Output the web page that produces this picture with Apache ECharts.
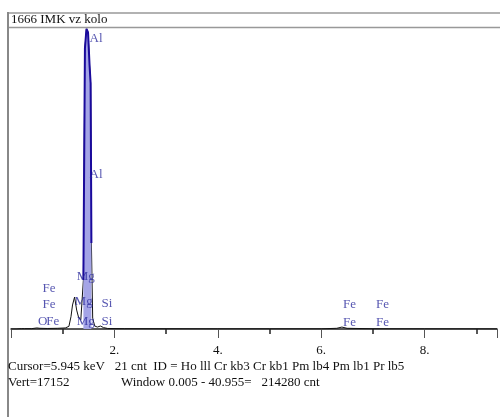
<!DOCTYPE html>
<html>
<head>
<meta charset="utf-8">
<script src="https://cdn.jsdelivr.net/npm/echarts@6/dist/echarts.min.js"></script>
<style>html,body{margin:0;padding:0;background:#fff}#c{width:500px;height:417px}</style>
</head>
<body>
<div id="c"></div>
<script>
// Spectrum (keV, counts)
var energy = [0, 0.1, 0.2, 0.23, 0.26, 0.4, 0.5, 0.53, 0.56, 0.7, 0.9, 1.05, 1.12, 1.16, 1.19, 1.23, 1.27, 1.31, 1.35, 1.40, 1.43, 1.46, 1.49, 1.52, 1.54, 1.555, 1.58, 1.62, 1.67, 1.73, 1.79, 1.87, 2.2, 3, 4, 5, 6, 6.3, 6.4, 6.5, 7, 8, 9.4];
var counts = [0, 0, 20, 70, 20, 20, 60, 110, 40, 30, 40, 60, 150, 700, 1370, 1820, 1080, 630, 520, 2790, 16000, 17100, 16900, 15000, 14000, 4900, 600, 170, 110, 170, 80, 30, 20, 15, 10, 10, 10, 40, 110, 40, 15, 10, 5];
// Al region of interest (highlighted)
var alEnergy = [1.40, 1.43, 1.46, 1.49, 1.52, 1.54, 1.555];
var alCounts = [2790, 16000, 17100, 16900, 15000, 14000, 4900];
// Peak identification labels
var peakLabels = ['Al', 'Al', 'Mg', 'Mg', 'Si', 'Mg', 'Si', 'Fe', 'Fe', 'O', 'Fe', 'Fe', 'Fe', 'Fe', 'Fe'];
var peakEnergy = [1.52, 1.52, 1.27, 1.23, 1.75, 1.27, 1.75, 0.61, 0.61, 0.52, 0.68, 6.42, 6.42, 7.06, 7.06];
var peakCounts = [16560, 8800, 2980, 1560, 1450, 430, 430, 2290, 1380, 430, 430, 1370, 350, 1370, 350];
var xTicks = [2, 4, 6, 8];
var vertScale = 17152;
var titleText = '1666 IMK vz kolo';
var footerLine1 = 'Cursor=5.945 keV   21 cnt  ID = Ho lll Cr kb3 Cr kb1 Pm lb4 Pm lb1 Pr lb5';
var footerVert = 'Vert=17152';
var footerWindow = 'Window 0.005 - 40.955=   214280 cnt';

var font = '"Liberation Serif", "DejaVu Serif", serif';
var chart = echarts.init(document.getElementById('c'));
var spec = energy.map(function (e, i) { return [e, counts[i]]; });
var al = alEnergy.map(function (e, i) { return [e, alCounts[i]]; });
var labs = peakEnergy.map(function (e, i) { return { value: [e, peakCounts[i]], name: peakLabels[i] }; });

chart.setOption({
  animation: false,
  backgroundColor: '#fff',
  grid: { left: 11, right: 0, top: 28, bottom: 88 },
  xAxis: {
    type: 'value', min: 0, max: 9.4, interval: 2,
    axisLine: { lineStyle: { color: '#222', width: 1.5 } },
    axisTick: { length: 9, lineStyle: { color: '#555', width: 1 } },
    minorTick: { show: true, splitNumber: 2, length: 5, lineStyle: { color: '#222', width: 1.5 } },
    splitLine: { show: false },
    axisLabel: {
      margin: 15, fontFamily: font, fontSize: 13, color: '#111',
      formatter: function (v) { return xTicks.indexOf(v) >= 0 ? v + '.' : ''; }
    }
  },
  yAxis: { type: 'value', min: 0, max: vertScale, show: false },
  series: [
    {
      type: 'line', data: spec, symbol: 'none', z: 2,
      lineStyle: { color: '#111', width: 1 }
    },
    {
      type: 'line', data: al, symbol: 'none', z: 3,
      lineStyle: { color: '#1a0a9c', width: 2 },
      areaStyle: { color: '#a4a4e6', opacity: 1 }
    },
    {
      type: 'scatter', data: labs, symbolSize: 0, z: 5,
      label: {
        show: true, position: 'right', distance: 0,
        formatter: '{b}', fontFamily: font, fontSize: 13, color: '#2a2a9c'
      }
    }
  ],
  graphic: [
    { type: 'line', shape: { x1: 8, y1: 13, x2: 500, y2: 13 }, style: { stroke: '#999', lineWidth: 1.5 } },
    { type: 'line', shape: { x1: 8, y1: 27.5, x2: 500, y2: 27.5 }, style: { stroke: '#999', lineWidth: 1.5 } },
    { type: 'line', shape: { x1: 8, y1: 12, x2: 8, y2: 417 }, style: { stroke: '#888', lineWidth: 2 } },
    { type: 'text', left: 11, top: 13, style: { text: titleText, font: '13px ' + font, fill: '#111' } },
    { type: 'text', left: 8, top: 360, style: { text: footerLine1, font: '13px ' + font, fill: '#111' } },
    { type: 'text', left: 8, top: 376, style: { text: footerVert, font: '13px ' + font, fill: '#111' } },
    { type: 'text', left: 121, top: 376, style: { text: footerWindow, font: '13px ' + font, fill: '#111' } }
  ]
});
</script>
</body>
</html>
